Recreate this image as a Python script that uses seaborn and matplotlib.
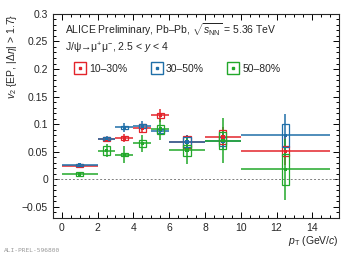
import numpy as np
import pandas as pd
import matplotlib
matplotlib.use('Agg')
import matplotlib.pyplot as plt
import seaborn as sns
from matplotlib.patches import Rectangle
from matplotlib.lines import Line2D
from matplotlib.legend_handler import HandlerTuple
from matplotlib.ticker import MultipleLocator

# pT bins
pt_lo = [0, 2, 3, 4, 5, 6, 8, 10]
pt_hi = [2, 3, 4, 5, 6, 8, 10, 15]
pt_c = [1, 2.5, 3.5, 4.5, 5.5, 7, 9, 12.5]

# v2 per centrality class: value, stat error, syst error
v2_1030 = [0.025, 0.073, 0.075, 0.093, 0.116, 0.068, 0.077, 0.051]
stat_1030 = [0.003, 0.004, 0.008, 0.008, 0.012, 0.013, 0.018, 0.025]
sys_1030 = [0.002, 0.003, 0.003, 0.008, 0.005, 0.011, 0.013, 0.009]

v2_3050 = [0.026, 0.074, 0.094, 0.097, 0.088, 0.068, 0.069, 0.080]
stat_3050 = [0.002, 0.004, 0.009, 0.008, 0.006, 0.012, 0.015, 0.038]
sys_3050 = [0.002, 0.003, 0.003, 0.004, 0.004, 0.009, 0.008, 0.021]

v2_5080 = [0.010, 0.052, 0.045, 0.065, 0.091, 0.053, 0.070, 0.018]
stat_5080 = [0.004, 0.012, 0.015, 0.015, 0.020, 0.025, 0.041, 0.055]
sys_5080 = [0.004, 0.008, 0.003, 0.006, 0.008, 0.010, 0.015, 0.028]

labels = ['10–30%', '30–50%', '50–80%']
colors = ['#e3242b', '#1f6fa8', '#22a82a']

sns.set_style("ticks")
plt.rcParams['font.family'] = ['Liberation Sans', 'DejaVu Sans']
plt.rcParams['mathtext.fontset'] = 'custom'
plt.rcParams['mathtext.rm'] = 'Liberation Sans'
plt.rcParams['mathtext.it'] = 'Liberation Sans:italic'
plt.rcParams['mathtext.sf'] = 'Liberation Sans'

rows = []
for lab, v, st, sy in zip(labels, [v2_1030, v2_3050, v2_5080],
                          [stat_1030, stat_3050, stat_5080],
                          [sys_1030, sys_3050, sys_5080]):
    for lo, hi, c, vv, s1, s2 in zip(pt_lo, pt_hi, pt_c, v, st, sy):
        rows.append(dict(cent=lab, lo=lo, hi=hi, pt=c, v2=vv, stat=s1, sys=s2))
df = pd.DataFrame(rows)

fig = plt.figure(figsize=(3.57, 2.57), dpi=100)
ax = fig.add_axes([0.148, 0.152, 0.802, 0.794])

ax.axhline(0, color='gray', lw=0.7, ls=(0, (2, 2)), zorder=1)

box_hw = 0.2
for lab, col in zip(labels, colors):
    d = df[df.cent == lab]
    ax.errorbar(d.pt, d.v2, xerr=[d.pt - d.lo, d.hi - d.pt], yerr=d.stat,
                fmt='none', ecolor=col, elinewidth=1.1, capsize=0, zorder=3)
    for _, r in d.iterrows():
        ax.add_patch(Rectangle((r.pt - box_hw, r.v2 - r.sys), 2 * box_hw, 2 * r.sys,
                               fill=False, edgecolor=col, lw=0.9, zorder=4))

sns.scatterplot(data=df, x='pt', y='v2', hue='cent', palette=colors, marker='s',
                s=6, linewidth=0, legend=False, ax=ax, zorder=5)

ax.set_xlim(-0.5, 15.5)
ax.set_ylim(-0.07, 0.3)
ax.xaxis.set_major_locator(MultipleLocator(2))
ax.xaxis.set_minor_locator(MultipleLocator(0.5))
ax.yaxis.set_major_locator(MultipleLocator(0.05))
ax.yaxis.set_minor_locator(MultipleLocator(0.01))
ax.yaxis.set_major_formatter(matplotlib.ticker.FuncFormatter(
    lambda v, p: '0' if abs(v) < 1e-9 else ('%g' % v).replace('-', '\u2212')))
ax.tick_params(which='both', direction='in', top=True, right=True, labelsize=7.5,
               width=0.7, color='black')
ax.tick_params(which='major', length=4)
ax.tick_params(which='minor', length=2)
for sp in ax.spines.values():
    sp.set_linewidth(0.8)

ax.set_xlabel(r'$p_{\rm T}$ (GeV/$c$)', loc='right', fontsize=7.5, labelpad=1)
ax.set_ylabel(r'$v_2$ {EP, $|\Delta\eta|$ > 1.7}', loc='top', fontsize=7.5, labelpad=2)

ax.text(0.042, 0.925, r'ALICE Preliminary, Pb–Pb, $\sqrt{s_{\rm NN}}$ = 5.36 TeV',
        transform=ax.transAxes, fontsize=7.5, va='center')
ax.text(0.042, 0.833, r'J/ψ→μ$^{+}$μ$^{-}$, 2.5 < $y$ < 4',
        transform=ax.transAxes, fontsize=7.5, va='center')

handles = [(Line2D([], [], marker='s', ms=8, mfc='none', mec=c, mew=1.0, ls=''),
            Line2D([], [], marker='s', ms=2, color=c, ls='')) for c in colors]
ax.legend(handles, labels, handler_map={tuple: HandlerTuple(ndivide=1)},
          ncol=3, frameon=False, fontsize=7.5, loc='center left',
          bbox_to_anchor=(0.04, 0.73), handlelength=1.2, handletextpad=0.3,
          columnspacing=2.2)

fig.text(0.01, 0.02, 'ALI-PREL-596800', fontsize=4.5, color='#999999',
         family='DejaVu Sans Mono')

fig.savefig('out.png', dpi=100)
